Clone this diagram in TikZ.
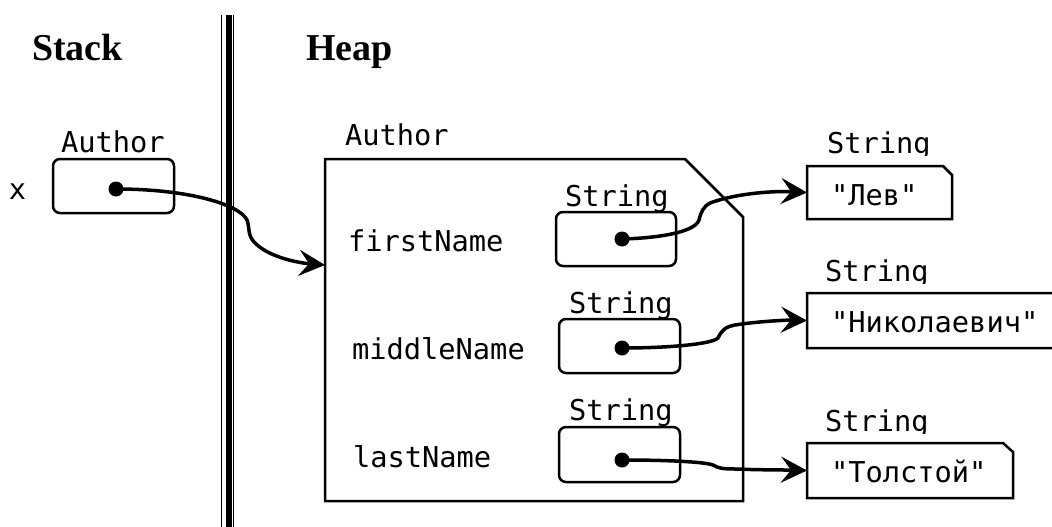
\documentclass[tikz,border=0pt]{standalone}
\usepackage{fontspec}
\setmonofont{DejaVu Sans Mono}
\newfontfamily\headfont{Liberation Serif}
\usetikzlibrary{arrows.meta}
\begin{document}
\begin{tikzpicture}[x=1pt,y=-1pt,
  mono/.style={font=\ttfamily\fontsize{28.7}{34}\selectfont, inner sep=0, outer sep=0, anchor=base west},
  head/.style={font=\headfont\bfseries\fontsize{38}{44}\selectfont, inner sep=0, outer sep=0, anchor=base west},
  refbox/.style={draw, line width=2.5pt, rounded corners=7pt, fill=white, inner sep=0, outer sep=0, minimum height=54pt},
  dotnode/.style={circle, fill=black, inner sep=0, minimum size=15pt},
  link/.style={line width=3.5pt, -{Stealth[length=26pt,width=26pt,inset=10pt]}},
  obj/.style={inner sep=0, outer sep=0},
  outline/.style={draw, line width=2.5pt, line join=miter, fill=white},
  wall/.style={line width=#1},
]
\useasboundingbox (0,0) rectangle (1052,527);

% headings
\node[head] (stack) at (32,61) {Stack};
\node[head] (heap) at (306,61) {Heap};

% separator
\draw[wall=1.5pt] (221.7,15) -- (221.7,527);
\draw[wall=5.5pt] (228.8,15) -- (228.8,527);
\draw[wall=1.5pt] (233.5,15) -- (233.5,527);

% stack variable
\node[mono] (xlbl) at (9,199) {x};
\node[mono] (sauth) at (61,152) {Author};
\node[refbox, minimum width=121pt] (sbox) at (113.5,186) {};

% heap object
\node[mono] (hauth) at (345,145) {Author};
\node[obj, minimum width=418pt, minimum height=342pt] (hbox) at (534,330) {};
\draw[outline] (hbox.north west) -- ([xshift=-58pt]hbox.north east) -- ([yshift=-58pt]hbox.north east) -- (hbox.south east) -- (hbox.south west) -- cycle;
\coordinate (hin) at ([yshift=65pt]hbox.west);

\node[mono] (f1) at (348,251) {firstName};
\node[mono] (f2) at (352,359) {middleName};
\node[mono] (f3) at (353,467) {lastName};

\node[mono] (t1) at (565,206) {String};
\node[mono] (t2) at (569,313) {String};
\node[mono] (t3) at (569,420) {String};
\node[refbox, minimum width=120pt] (b1) at (616,239) {};
\node[refbox, minimum width=121pt] (b2) at (619.5,346) {};
\node[refbox, minimum width=121pt, minimum height=55pt] (b3) at (619.5,454.5) {};

% string objects
\begin{scope}
\clip (800,100) rectangle (1000,155);
\node[mono] (ta) at (827,153) {String};
\end{scope}
\begin{scope}
\clip (800,230) rectangle (1000,283);
\node[mono] (tb) at (825,281) {String};
\end{scope}
\begin{scope}
\clip (800,380) rectangle (1000,433);
\node[mono] (tc) at (825,431) {String};
\end{scope}

\node[obj, minimum width=145pt, minimum height=53pt] (sa) at (879.5,192.5) {};
\draw[outline] (sa.north west) -- ([xshift=-9pt]sa.north east) -- ([yshift=-9pt]sa.north east) -- (sa.south east) -- (sa.south west) -- cycle;
\node[obj, minimum width=290pt, minimum height=55pt] (sb) at (952,320.5) {};
\draw[outline] (sb.north west) -- ([xshift=-9pt]sb.north east) -- ([yshift=-9pt]sb.north east) -- (sb.south east) -- (sb.south west) -- cycle;
\node[obj, minimum width=206pt, minimum height=55pt] (sc) at (910,470.5) {};
\draw[outline] (sc.north west) -- ([xshift=-10pt]sc.north east) -- ([yshift=-9pt]sc.north east) -- (sc.south east) -- (sc.south west) -- cycle;

\node[mono] (va) at (831,205) {"Лев"};
\node[mono] (vb) at (831,332) {"Николаевич"};
\node[mono] (vc) at (831,482) {"Толстой"};

% dots
\node[dotnode] (sd) at (116,189) {};
\node[dotnode] (d1) at (622,239) {};
\node[dotnode] (d2) at (622,348) {};
\node[dotnode] (d3) at (622,460) {};

% connectors
\draw[link] (sd.center) .. controls (190,189) and (240,205) .. (247,220)
  .. controls (250,228) and (247,235) .. (255,243)
  .. controls (270,258) and (300,263) .. (hin);
\draw[link] (d1.center) .. controls (660,238) and (695,232) .. (699,220)
  .. controls (701,212) and (703,207) .. (710,203)
  .. controls (740,192) and (780,191) .. (sa.west);
\draw[link] (d2.center) .. controls (670,348) and (712,344) .. (718,338)
  .. controls (722,330) and (725,327) .. (735,325)
  .. controls (760,321) and (790,320) .. (sb.west);
\draw[link] (d3.center) .. controls (670,460) and (705,462) .. (713,465)
  .. controls (718,468) and (722,469) .. (735,469)
  .. controls (760,470) and (790,470) .. (sc.west);
\end{tikzpicture}
\end{document}
